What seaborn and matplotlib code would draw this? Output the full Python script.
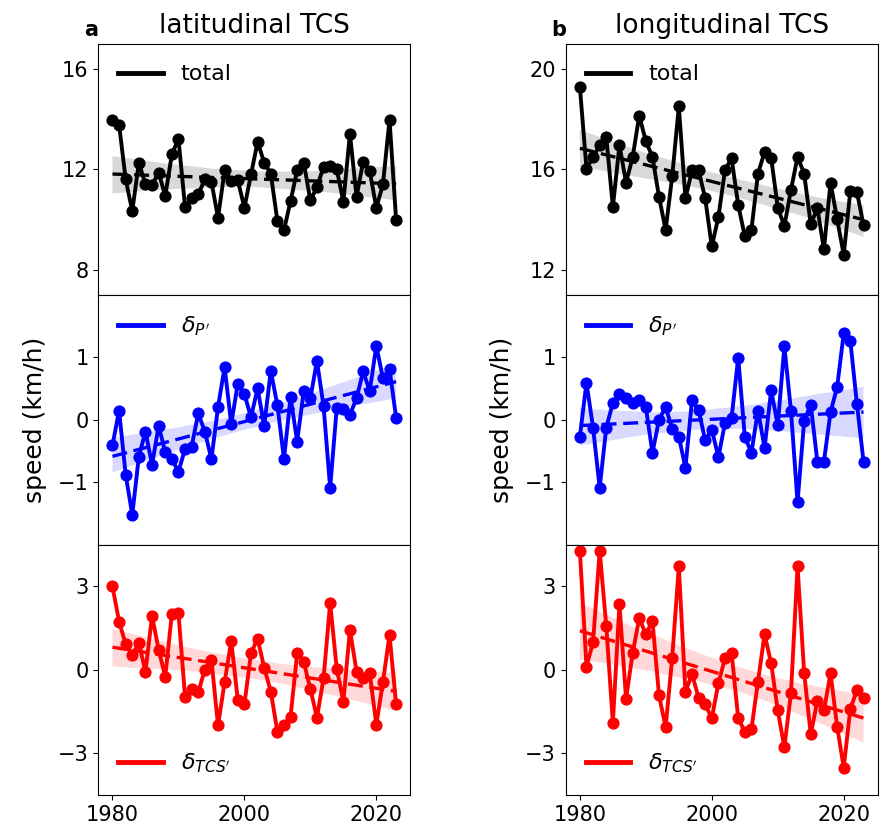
import numpy as np
import pandas as pd
import matplotlib
matplotlib.use("Agg")
import matplotlib.pyplot as plt
from matplotlib.lines import Line2D
import seaborn as sns

years = list(range(1980, 2024))

lat_total = [13.99, 13.79, 11.60, 10.34, 12.27, 11.40, 11.38, 11.87, 10.94, 12.60,
             13.22, 10.51, 10.84, 11.00, 11.60, 11.50, 10.07, 11.96, 11.54, 11.56,
             10.47, 11.80, 13.10, 12.27, 11.83, 9.94, 9.57, 10.74, 11.96, 12.27,
             10.76, 11.30, 12.09, 12.13, 12.00, 10.71, 13.42, 10.90, 12.31, 11.93,
             10.47, 11.40, 13.99, 9.98]
lat_p = [-0.41, 0.145, -0.88, -1.52, -0.59, -0.19, -0.72, -0.10, -0.52, -0.63,
         -0.83, -0.47, -0.43, 0.10, -0.19, -0.63, 0.20, 0.84, -0.07, 0.575,
         0.41, 0.04, 0.50, -0.10, 0.78, 0.23, -0.63, 0.36, -0.35, 0.46,
         0.34, 0.94, 0.215, -1.09, 0.19, 0.17, 0.08, 0.34, 0.77, 0.46,
         1.18, 0.66, 0.81, 0.03]
lat_tcs = [3.00, 1.74, 0.92, 0.54, 0.96, -0.06, 1.94, 0.72, -0.24, 2.00,
           2.04, -0.96, -0.68, -0.80, 0.00, 0.36, -2.00, -0.44, 1.04, -1.08,
           -1.24, 0.60, 1.12, 0.08, -0.78, -2.22, -1.98, -1.68, 0.60, 0.28,
           -0.68, -1.72, -0.30, 2.40, 0.04, -1.14, 1.44, -0.06, -0.30, -0.12,
           -1.98, -0.44, 1.26, -1.24]

lon_total = [19.29, 16.03, 16.49, 16.96, 17.30, 14.50, 16.97, 15.47, 16.49, 18.15,
             17.13, 16.50, 14.90, 13.58, 15.73, 18.52, 14.84, 15.96, 15.96, 14.84,
             12.92, 14.10, 15.97, 16.44, 14.58, 13.34, 13.57, 15.83, 16.70, 16.46,
             14.47, 13.74, 15.18, 16.50, 15.83, 13.81, 14.45, 12.81, 15.47, 14.01,
             12.59, 15.14, 15.10, 13.77]
lon_p = [-0.27, 0.59, -0.13, -1.09, -0.13, 0.27, 0.41, 0.34, 0.27, 0.31,
         0.20, -0.53, 0.00, 0.20, -0.15, -0.27, -0.77, 0.31, 0.15, -0.33,
         -0.16, -0.60, -0.05, 0.03, 0.99, -0.27, -0.53, 0.145, -0.45, 0.47,
         -0.09, 1.17, 0.145, -1.32, -0.02, 0.24, -0.67, -0.67, 0.12, 0.52,
         1.38, 1.26, 0.25, -0.67]
lon_tcs = [4.28, 0.12, 1.00, 4.28, 1.58, -1.90, 2.36, -1.04, 0.60, 1.86,
           1.28, 1.76, -0.92, -2.06, 0.44, 3.72, -0.78, -0.16, -1.00, -1.24,
           -1.74, -0.48, 0.42, 0.62, -1.74, -2.22, -2.14, -0.42, 1.28, 0.24,
           -1.46, -2.78, -0.84, 3.72, -0.10, -2.32, -1.12, -1.46, -0.12, -2.04,
           -3.52, -1.40, -0.74, -1.00]

col_titles = ["latitudinal TCS", "longitudinal TCS"]
panel_letters = ["a", "b"]
row_labels = ["total", r"$\delta_{P^{\prime}}$", r"$\delta_{TCS^{\prime}}$"]
row_colors = ["black", "blue", "red"]
ylims = [[(7, 17), (11, 21)], [(-2, 2), (-2, 2)], [(-4.5, 4.5), (-4.5, 4.5)]]
yticks = [[[8, 12, 16], [12, 16, 20]], [[-1, 0, 1], [-1, 0, 1]], [[-3, 0, 3], [-3, 0, 3]]]
xticks = [1980, 2000, 2020]

data = [[lat_total, lon_total], [lat_p, lon_p], [lat_tcs, lon_tcs]]

fig = plt.figure(figsize=(8.86, 8.35), dpi=100)
lefts = [98.3 / 886, 565.7 / 886]
width = 312.0 / 886
top = 1 - 44.3 / 835
bottom = 1 - 795.0 / 835
h = (top - bottom) / 3

for c in range(2):
    for r in range(3):
        ax = fig.add_axes([lefts[c], bottom + (2 - r) * h, width, h])
        df = pd.DataFrame({"year": years, "val": data[r][c]})
        col = row_colors[r]
        sns.regplot(data=df, x="year", y="val", ax=ax, scatter=False, color=col,
                    seed=0, line_kws={"ls": (0, (4.5, 2)), "lw": 2.4})
        sns.lineplot(data=df, x="year", y="val", ax=ax, color=col, lw=2.8,
                     marker="o", markersize=8, markeredgecolor=col, legend=False)
        ax.set_xlim(1977.85, 2025.15)
        ax.set_ylim(*ylims[r][c])
        ax.set_yticks(yticks[r][c])
        ax.set_xticks(xticks)
        ax.tick_params(labelsize=15)
        ax.set_xlabel("")
        if r == 1:
            ax.set_ylabel("speed (km/h)", fontsize=18, labelpad=8)
        else:
            ax.set_ylabel("")
        if r < 2:
            ax.tick_params(axis="x", bottom=False, labelbottom=False)
        handle = Line2D([0], [0], color=col, lw=3.5)
        loc = "lower left" if r == 2 else "upper left"
        ax.legend([handle], [row_labels[r]], loc=loc, frameon=False, fontsize=16)
        if r == 0:
            ax.set_title(col_titles[c], fontsize=19, pad=8)
            fig.text(lefts[c] - 14 / 886, top + 4 / 835, panel_letters[c],
                     fontsize=15, fontweight="bold", ha="left", va="bottom")

fig.savefig("out.png", dpi=100)
